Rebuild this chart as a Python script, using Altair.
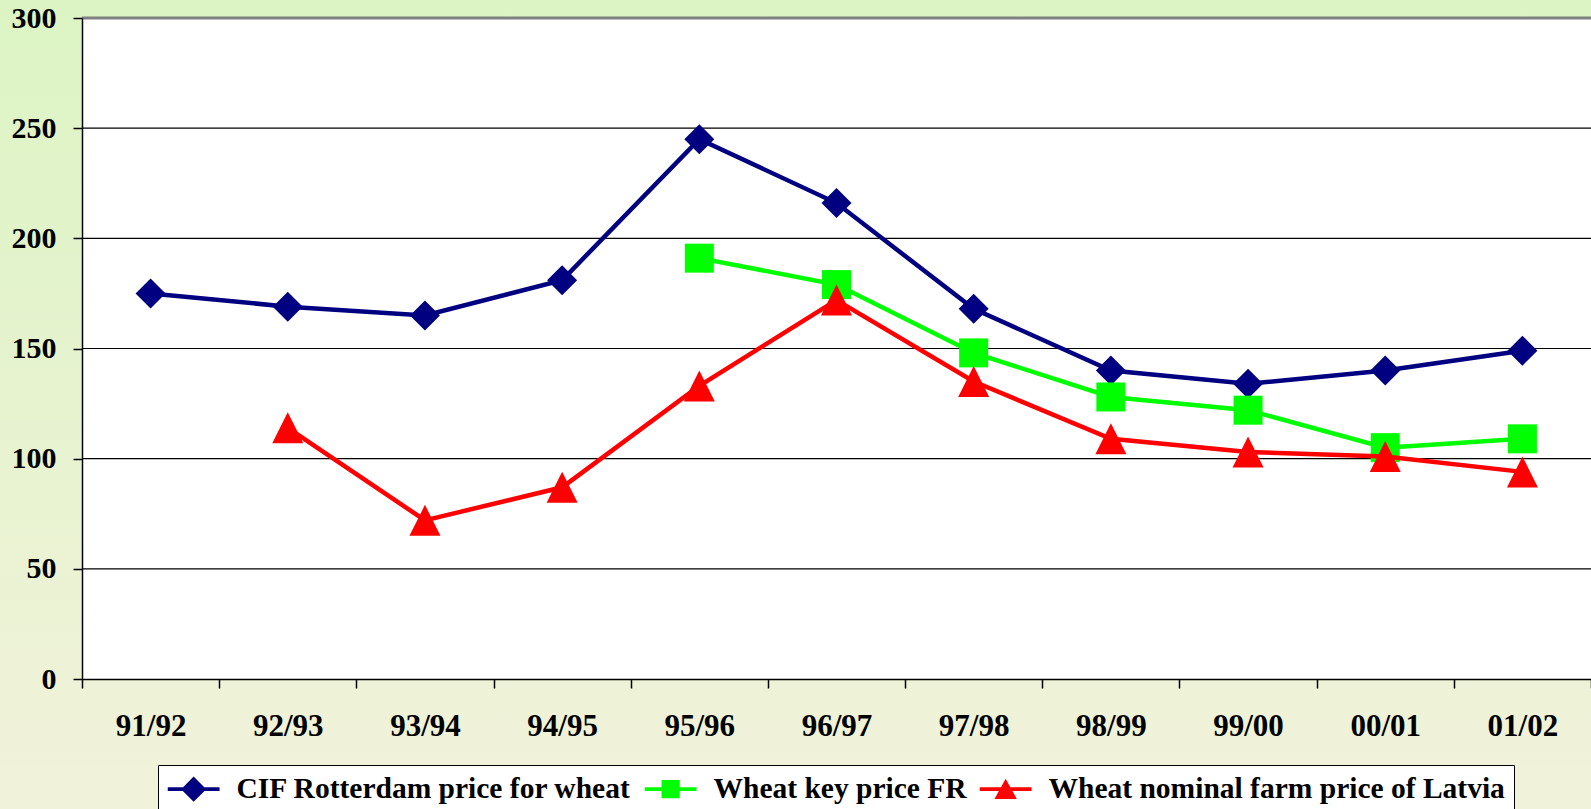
import altair as alt
import pandas as pd

# ---- data ----
periods = ["91/92", "92/93", "93/94", "94/95", "95/96", "96/97",
           "97/98", "98/99", "99/00", "00/01", "01/02"]
cif_rotterdam = [175, 169, 165, 181, 245, 216, 168, 140, 134, 140, 149]
key_price_fr = [None, None, None, None, 191, 179, 148, 128, 122, 105, 109]
latvia_farm = [None, 114, 72, 87, 133, 172, 135, 109, 103, 101, 94]

series_names = ["CIF Rotterdam price for wheat",
                "Wheat key price FR",
                "Wheat nominal farm price of Latvia"]
series_colors = ["#000080", "#00FF00", "#FF0000"]
y_ticks = [0, 50, 100, 150, 200, 250, 300]
grid_values = [50, 100, 150, 200, 250, 300]

W, H = 1509, 661
FONT = "Liberation Serif"

rows = []
for name, vals in zip(series_names, [cif_rotterdam, key_price_fr, latvia_farm]):
    for p, v in zip(periods, vals):
        if v is not None:
            rows.append({"period": p, "series": name, "value": v})
df = pd.DataFrame(rows)
grid_df = pd.DataFrame({"v": grid_values})
legend_df = pd.DataFrame({"series": series_names})
one_df = pd.DataFrame({"k": [0]})

y_scale = alt.Scale(domain=[0, 300], nice=False, zero=True)
x_scale = alt.Scale(type="band", domain=periods, paddingInner=0, paddingOuter=0)
color_scale = alt.Scale(domain=series_names, range=series_colors)

x_axis = alt.Axis(title=None, labelAngle=0, tickBand="extent", labelFont=FONT,
                  labelFontSize=31, labelFontWeight="bold", labelColor="black",
                  labelPadding=23, tickSize=9, tickColor="black", tickWidth=1.5,
                  domainColor="black", domainWidth=1.5, grid=False, zindex=1)
y_axis = alt.Axis(title=None, values=y_ticks, labelFont=FONT, labelFontSize=30,
                  labelFontWeight="bold", labelColor="black", labelPadding=17,
                  tickSize=9, tickColor="black", tickWidth=1.5, domainColor="black",
                  domainWidth=1.5, grid=False, zindex=1)

# background gradient for the whole canvas and white plot area
bg = alt.Chart(one_df).mark_rect(
    color=alt.Gradient(gradient="linear",
                       stops=[alt.GradientStop(color="#DCF4C4", offset=0),
                              alt.GradientStop(color="#F1F2DA", offset=1)],
                       x1=0, x2=0, y1=0, y2=1)
).encode(x=alt.value(-82), x2=alt.value(W), y=alt.value(-18), y2=alt.value(H + 130))

plot_bg = alt.Chart(one_df).mark_rect(color="white").encode(
    x=alt.value(0), x2=alt.value(W), y=alt.value(0), y2=alt.value(H))

grid = alt.Chart(grid_df).mark_rule().encode(
    y=alt.Y("v:Q", scale=y_scale, axis=y_axis),
    color=alt.condition("datum.v == 300", alt.value("#808080"), alt.value("black")),
    strokeWidth=alt.condition("datum.v == 300", alt.value(3), alt.value(1.2)),
)

# legend-only layer (symbols drawn off canvas)
u = "M-1,-0.14L2.7,-0.14L2.7,0.14L-1,0.14Z "
legend_paths = [
    u + "M0.85,-0.9L1.75,0L0.85,0.9L-0.05,0Z",
    u + "M0.2,-0.65L1.5,-0.65L1.5,0.65L0.2,0.65Z",
    u + "M0.85,-0.75L1.65,0.7L0.05,0.7Z",
]
leg = alt.Legend(title=None, orient="none", legendX=76, legendY=747,
                 direction="horizontal", fillColor="white", strokeColor="black",
                 padding=9, labelFont=FONT, labelFontSize=29.5, labelFontWeight="bold",
                 labelColor="black", labelLimit=1000, labelOffset=40,
                 symbolSize=784, symbolStrokeWidth=0, columnPadding=12,
                 symbolOpacity=1, cornerRadius=0)
legend_layer = alt.Chart(legend_df).mark_point(filled=True, size=784, opacity=1).encode(
    x=alt.value(-3000), y=alt.value(-3000),
    color=alt.Color("series:N", scale=color_scale, legend=leg),
    shape=alt.Shape("series:N", scale=alt.Scale(domain=series_names, range=legend_paths),
                    legend=leg),
)

marker_shapes = ["diamond", "square", "M0,-1L1,1L-1,1Z"]
marker_sizes = [900, 841, 961]
line_widths = [4.5, 4.5, 4.5]

layers = [bg, plot_bg, grid]
for name, col, shp, sz, lw in zip(series_names, series_colors, marker_shapes,
                                  marker_sizes, line_widths):
    base = alt.Chart(df).transform_filter(alt.datum.series == name).encode(
        x=alt.X("period:N", sort=periods, scale=x_scale, axis=x_axis),
        y=alt.Y("value:Q", scale=y_scale, axis=y_axis),
    )
    layers.append(base.mark_line(strokeWidth=lw, color=col))
    layers.append(base.mark_point(shape=shp, size=sz, filled=True, opacity=1, color=col))
layers.append(legend_layer)

chart = alt.layer(*layers).properties(
    width=W, height=H,
    autosize=alt.AutoSizeParams(type="none"),
    padding={"left": 82, "top": 18, "right": 0, "bottom": 130},
    background="#EEF2D6",
).configure_view(stroke=None, fill=None)

chart.save("out.html", embed_options={"renderer": "svg", "actions": False})
